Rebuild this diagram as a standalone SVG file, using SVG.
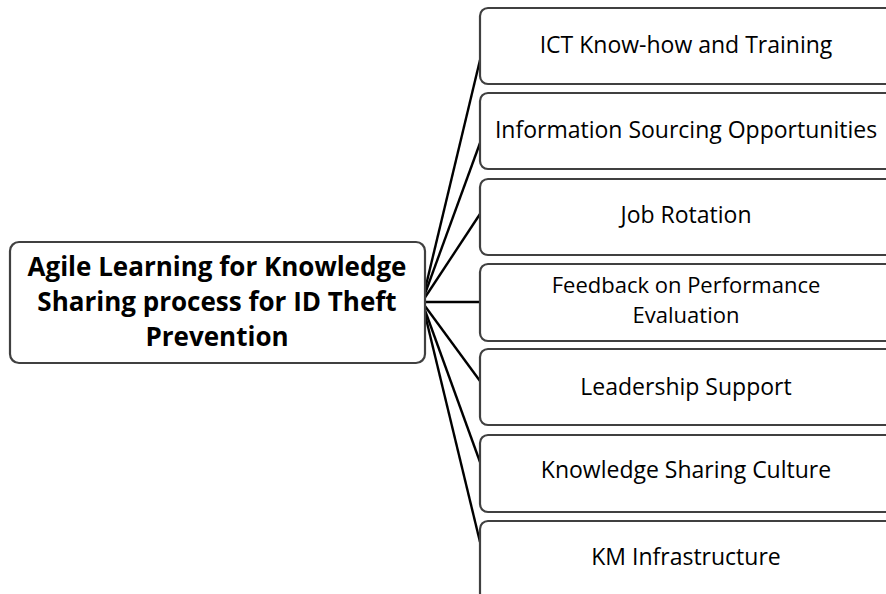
<svg xmlns="http://www.w3.org/2000/svg" width="886" height="594" viewBox="0 0 886 594">
<style>
.box{fill:#fff;stroke:#404040;stroke-width:2.2}
.conn{stroke:#000;stroke-width:2.4;fill:none}
.t{font-family:"Open Sans","Noto Sans",sans-serif;font-size:23px;fill:#000;text-anchor:middle}
.ts{font-size:22px}
.tb{font-family:"Open Sans","Noto Sans",sans-serif;font-size:26px;font-weight:bold;fill:#000;text-anchor:middle}
</style>
<rect width="886" height="594" fill="#fff"/>
<g id="connectors">
<line class="conn" x1="422" y1="302" x2="480" y2="60"/>
<line class="conn" x1="422" y1="302" x2="480" y2="143"/>
<line class="conn" x1="422" y1="302" x2="480" y2="214"/>
<line class="conn" x1="422" y1="302" x2="480" y2="302"/>
<line class="conn" x1="422" y1="302" x2="480" y2="381"/>
<line class="conn" x1="422" y1="302" x2="480" y2="462"/>
<line class="conn" x1="422" y1="302" x2="480" y2="542"/>
</g>
<g id="center">
<rect class="box" x="10" y="242" width="415" height="121" rx="9"/>
<text class="tb" x="217" y="276">Agile Learning for Knowledge</text>
<text class="tb" x="217" y="311">Sharing process for ID Theft</text>
<text class="tb" x="217" y="346">Prevention</text>
</g>
<g id="n1">
<rect class="box" x="480" y="8" width="420" height="76" rx="8"/>
<text class="t" x="686" y="53">ICT Know-how and Training</text>
</g>
<g id="n2">
<rect class="box" x="480" y="93" width="420" height="76" rx="8"/>
<text class="t" x="686" y="138">Information Sourcing Opportunities</text>
</g>
<g id="n3">
<rect class="box" x="480" y="179" width="420" height="76" rx="8"/>
<text class="t" x="686" y="223">Job Rotation</text>
</g>
<g id="n4">
<rect class="box" x="480" y="264" width="420" height="77" rx="8"/>
<text class="t ts" x="686" y="293">Feedback on Performance</text>
<text class="t ts" x="686" y="323">Evaluation</text>
</g>
<g id="n5">
<rect class="box" x="480" y="349" width="420" height="76" rx="8"/>
<text class="t" x="686" y="395">Leadership Support</text>
</g>
<g id="n6">
<rect class="box" x="480" y="435" width="420" height="77" rx="8"/>
<text class="t" x="686" y="478">Knowledge Sharing Culture</text>
</g>
<g id="n7">
<rect class="box" x="480" y="521" width="420" height="80" rx="8"/>
<text class="t" x="686" y="565">KM Infrastructure</text>
</g>
</svg>
